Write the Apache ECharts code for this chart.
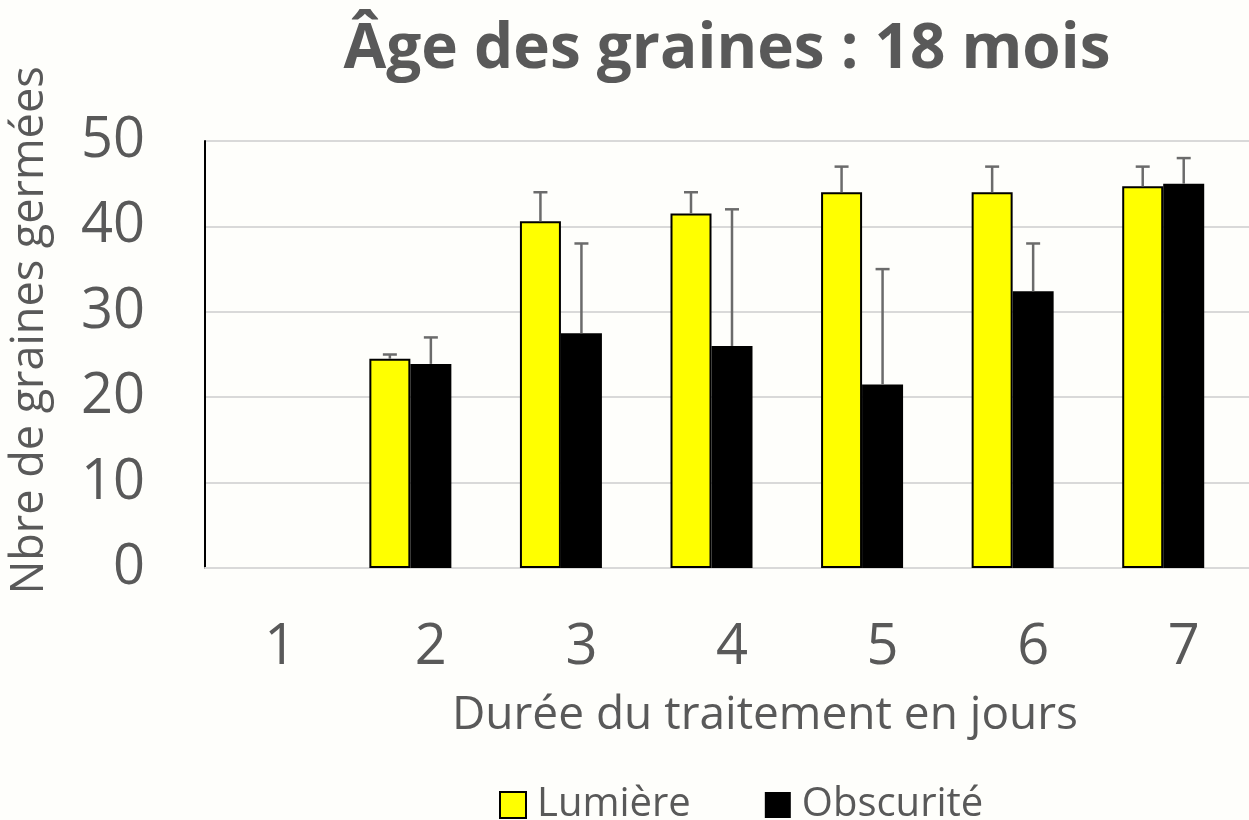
<!DOCTYPE html>
<html>
<head>
<meta charset="utf-8">
<script src="https://cdn.jsdelivr.net/npm/echarts@6/dist/echarts.min.js"></script>
<style>
  html, body { margin: 0; padding: 0; background: #fefefb; overflow: hidden; }
  #main { width: 1270px; height: 820px; }
</style>
</head>
<body>
<div id="main"></div>
<script>
// données
var jours = ['1', '2', '3', '4', '5', '6', '7'];
var lumiere = ['-', 24.5, 40.6, 41.5, 44, 44, 44.7];
var lumiereErr = ['-', 25, 44, 44, 47, 47, 47];
var obscurite = ['-', 23.9, 27.5, 26, 21.5, 32.4, 45];
var obscuriteErr = ['-', 27, 38, 42, 35, 38, 48];
var vide = ['-', '-', '-', '-', '-', '-', '-'];
var yTicks = [0, 10, 20, 30, 40, 50];

var font = '"Open Sans", sans-serif';
var grey = '#595959';
var barW = 41;

function errData(vals, tops) {
    var out = [];
    for (var i = 0; i < vals.length; i++) {
        if (vals[i] !== '-') out.push([i, vals[i], tops[i]]);
    }
    return out;
}

// barre d'erreur vers le haut seulement, avec petit chapeau
function errRender(offset) {
    return function (params, api) {
        var base = api.coord([api.value(0), api.value(1)]);
        var top = api.coord([api.value(0), api.value(2)]);
        var px = base[0] + offset;
        var st = { stroke: '#6b6b6b', lineWidth: 2.5 };
        return {
            type: 'group',
            children: [
                { type: 'line', shape: { x1: px, y1: base[1], x2: px, y2: top[1] }, style: st },
                { type: 'line', shape: { x1: px - 7, y1: top[1], x2: px + 7, y2: top[1] }, style: st }
            ]
        };
    };
}

var myChart = echarts.init(document.getElementById('main'));
var option = {
    backgroundColor: '#fefefb',
    animation: false,
    textStyle: { fontFamily: font },
    title: {
        text: 'Âge des graines : 18 mois',
        left: 722,
        textAlign: 'center',
        top: 14,
        textStyle: { fontFamily: font, fontSize: 62, fontWeight: 'bold', color: grey }
    },
    legend: {
        top: 780,
        left: 494,
        itemWidth: 26,
        itemHeight: 26,
        itemGap: 74,
        icon: 'rect',
        textStyle: { fontSize: 40, color: grey, fontFamily: font, padding: [0, 0, 0, 6] },
        data: [
            { name: 'Lumière', itemStyle: { color: '#ffff00', borderColor: '#000', borderWidth: 2 } },
            { name: 'Obscurité' }
        ]
    },
    grid: { left: 202, top: 141, width: 1057, height: 427 },
    xAxis: {
        type: 'category',
        data: jours,
        name: 'Durée du traitement en jours',
        nameLocation: 'middle',
        nameGap: 125,
        nameTextStyle: { fontSize: 46, color: grey, padding: [0, 0, 0, 66] },
        axisLine: { lineStyle: { color: '#d9d9d9', width: 2 } },
        axisTick: { show: false },
        axisLabel: { fontSize: 56, color: grey, margin: 52 }
    },
    yAxis: {
        type: 'value',
        min: yTicks[0],
        max: yTicks[yTicks.length - 1],
        interval: 10,
        name: 'Nbre de graines germées',
        nameLocation: 'middle',
        nameGap: 152,
        nameTextStyle: { fontSize: 45, color: grey, padding: [0, 0, 0, 48] },
        axisLine: { show: true, lineStyle: { color: '#000', width: 2 } },
        axisTick: { show: false },
        axisLabel: { fontSize: 56, color: grey, margin: 60 },
        splitLine: { lineStyle: { color: '#d9d9d9', width: 2 } }
    },
    series: [
        {
            name: 'Lumière',
            type: 'bar',
            data: lumiere,
            barWidth: barW,
            barGap: '0%',
            itemStyle: { color: '#ffff00', borderColor: '#000', borderWidth: 2 }
        },
        {
            name: 'Obscurité',
            type: 'bar',
            data: obscurite,
            barWidth: barW,
            barGap: '0%',
            itemStyle: { color: '#000' }
        },
        {
            // emplacement vide : décale le groupe de barres à gauche du libellé
            name: 'vide',
            type: 'bar',
            data: vide,
            barWidth: barW,
            barGap: '0%',
            silent: true
        },
        {
            type: 'custom',
            renderItem: errRender(-barW),
            data: errData(lumiere, lumiereErr),
            z: 5,
            silent: true
        },
        {
            type: 'custom',
            renderItem: errRender(0),
            data: errData(obscurite, obscuriteErr),
            z: 5,
            silent: true
        }
    ]
};
myChart.setOption(option);
</script>
</body>
</html>
